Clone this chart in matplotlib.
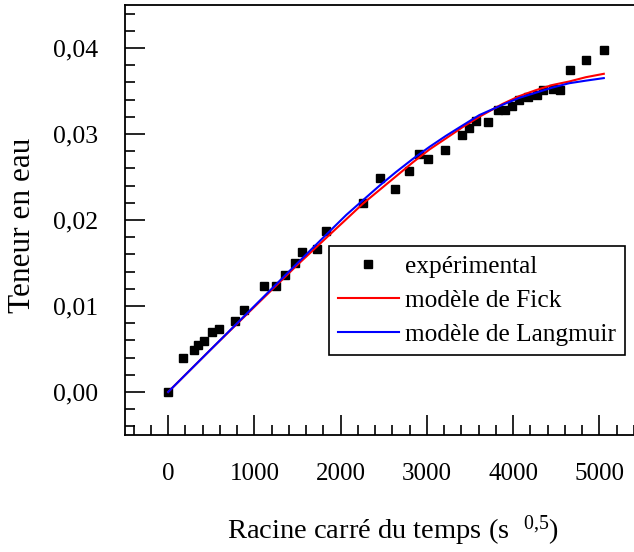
import matplotlib
matplotlib.use("Agg")
import matplotlib.pyplot as plt
from matplotlib.ticker import MultipleLocator, FuncFormatter

plt.rcParams['font.family'] = ['Liberation Serif', 'DejaVu Serif']
plt.rcParams['mathtext.fontset'] = 'custom'
plt.rcParams['mathtext.rm'] = 'Liberation Serif'
plt.rcParams['mathtext.it'] = 'Liberation Serif:italic'

# experimental points (sqrt of time, water content)
x_exp = [0, 170, 295, 345, 416, 512, 590, 773, 882, 1110, 1249, 1349, 1468,
         1553, 1730, 1834, 2258, 2451, 2632, 2794, 2913, 3013, 3206, 3402,
         3491, 3568, 3707, 3823, 3908, 3981, 4069, 4177, 4277, 4347, 4462,
         4540, 4663, 4840, 5048]
y_exp = [0.0, 0.00391, 0.00489, 0.00547, 0.00593, 0.00697, 0.00736, 0.00821,
         0.00956, 0.01229, 0.01237, 0.0136, 0.01495, 0.01633, 0.01661,
         0.01873, 0.0220, 0.02494, 0.02355, 0.02566, 0.02763, 0.02709,
         0.02813, 0.02991, 0.03064, 0.03148, 0.03137, 0.0328, 0.0328, 0.0333,
         0.03399, 0.03434, 0.03453, 0.0351, 0.03518, 0.0351, 0.03746, 0.03858,
         0.0398]

# model curves
x_mod = [0, 500, 1000, 1500, 1873, 2066, 2258, 2451, 2644, 2836, 3029, 3222,
         3414, 3607, 3877, 4069, 4262, 4455, 4647, 4840, 5050]
y_fick = [0.0, 0.0050, 0.0099, 0.0148, 0.0183, 0.0201, 0.0219, 0.0235,
          0.0251, 0.0267, 0.0282, 0.0295, 0.0308, 0.0320, 0.0335, 0.0344,
          0.0351, 0.0357, 0.0361, 0.0366, 0.0370]
y_lang = [0.0, 0.0050, 0.0100, 0.0150, 0.0187, 0.0206, 0.0223, 0.0240,
          0.0256, 0.0271, 0.0285, 0.0298, 0.0310, 0.0322, 0.0334, 0.0342,
          0.0348, 0.0354, 0.0359, 0.0362, 0.0365]

fig = plt.figure(figsize=(6.34, 5.52), dpi=100)
ax = fig.add_axes([125 / 634, 117 / 552, 509 / 634, 430 / 552])

ax.plot(x_exp, y_exp, 's', color='black', ms=6, label='expérimental')
ax.plot(x_mod, y_fick, '-', color='red', lw=1.5, label='modèle de Fick')
ax.plot(x_mod, y_lang, '-', color='blue', lw=1.5, label='modèle de Langmuir')

ax.set_xlim(-500, 5400)
ax.set_ylim(-0.005, 0.045)

ax.xaxis.set_major_locator(MultipleLocator(1000))
ax.xaxis.set_minor_locator(MultipleLocator(200))
ax.yaxis.set_major_locator(MultipleLocator(0.01))
ax.yaxis.set_minor_locator(MultipleLocator(0.002))
ax.yaxis.set_major_formatter(FuncFormatter(lambda v, p: f"{v:.2f}".replace('.', ',').replace('-0,00', '0,00')))

ax.spines['right'].set_visible(False)
for s in ['left', 'bottom', 'top']:
    ax.spines[s].set_linewidth(1.3)

ax.tick_params(which='both', direction='in', top=False, right=False, width=1.2)
ax.tick_params(which='major', length=14.4)
ax.tick_params(which='minor', length=7.2)
ax.tick_params(axis='y', which='major', labelsize=18.5, pad=19)
ax.tick_params(axis='x', which='major', labelsize=18, pad=20)

ax.set_xlabel("Racine carré du temps (s  $^{0{,}5}$)", fontsize=20.5)
ax.set_ylabel("Teneur en eau", fontsize=22.5)
ax.xaxis.set_label_coords(0.5265, -0.182)
ax.yaxis.set_label_coords(-0.172, 0.487)

leg = ax.legend(loc='lower right', bbox_to_anchor=(0.982, 0.186), borderaxespad=0,
                fontsize=18.3, frameon=True, fancybox=False, framealpha=1,
                edgecolor='black', handlelength=2.4, handletextpad=0.25,
                borderpad=0.35, labelspacing=0.45)
leg.get_frame().set_linewidth(1.2)

fig.savefig("out.png", dpi=100)
